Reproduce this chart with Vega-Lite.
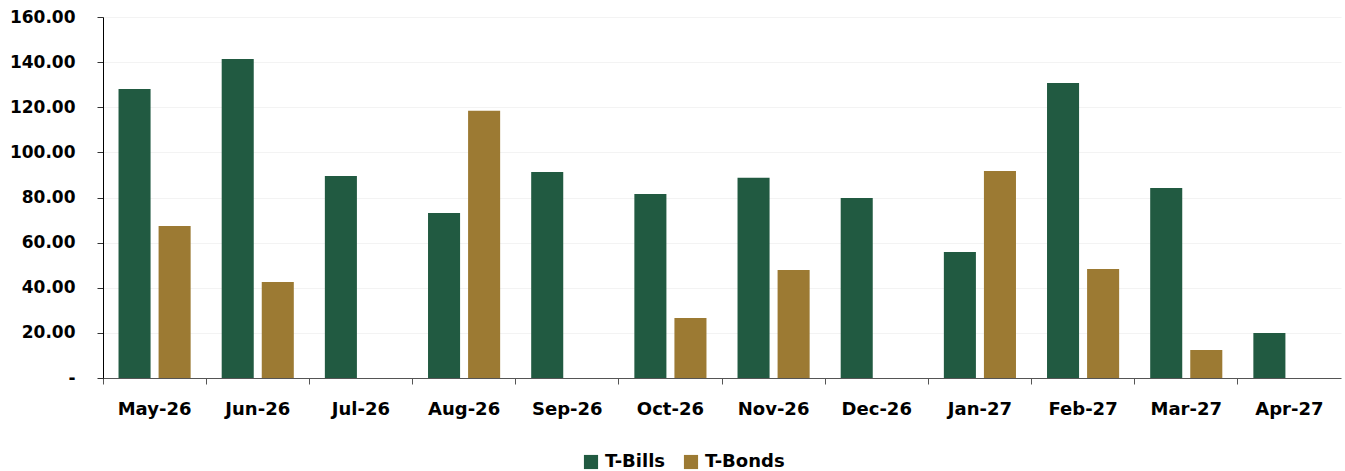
{
  "$schema": "https://vega.github.io/schema/vega-lite/v6.json",
  "width": 1238,
  "height": 361,
  "autosize": {"type": "none"},
  "padding": {"left": 103, "top": 17, "right": 4, "bottom": 93},
  "background": "white",
  "config": {"view": {"stroke": null}, "font": "DejaVu Sans"},
  "data": {"values": [
    {"month": "May-26", "type": "T-Bills", "value": 128.1},
    {"month": "May-26", "type": "T-Bonds", "value": 67.4},
    {"month": "Jun-26", "type": "T-Bills", "value": 141.4},
    {"month": "Jun-26", "type": "T-Bonds", "value": 42.6},
    {"month": "Jul-26", "type": "T-Bills", "value": 89.5},
    {"month": "Aug-26", "type": "T-Bills", "value": 73.1},
    {"month": "Aug-26", "type": "T-Bonds", "value": 118.4},
    {"month": "Sep-26", "type": "T-Bills", "value": 91.3},
    {"month": "Oct-26", "type": "T-Bills", "value": 81.6},
    {"month": "Oct-26", "type": "T-Bonds", "value": 26.6},
    {"month": "Nov-26", "type": "T-Bills", "value": 88.7},
    {"month": "Nov-26", "type": "T-Bonds", "value": 47.9},
    {"month": "Dec-26", "type": "T-Bills", "value": 79.8},
    {"month": "Jan-27", "type": "T-Bills", "value": 55.9},
    {"month": "Jan-27", "type": "T-Bonds", "value": 91.8},
    {"month": "Feb-27", "type": "T-Bills", "value": 130.8},
    {"month": "Feb-27", "type": "T-Bonds", "value": 48.3},
    {"month": "Mar-27", "type": "T-Bills", "value": 84.2},
    {"month": "Mar-27", "type": "T-Bonds", "value": 12.4},
    {"month": "Apr-27", "type": "T-Bills", "value": 19.9}
  ]},
  "mark": {"type": "bar"},
  "encoding": {
    "x": {
      "field": "month", "type": "nominal", "sort": null, "title": null,
      "scale": {"paddingInner": 0, "paddingOuter": 0,
        "domain": ["May-26","Jun-26","Jul-26","Aug-26","Sep-26","Oct-26","Nov-26","Dec-26","Jan-27","Feb-27","Mar-27","Apr-27"]},
      "axis": {"labelAngle": 0, "labelFontSize": 18, "labelFontWeight": "bold", "labelColor": "#000",
        "bandPosition": 0, "tickSize": 6, "tickColor": "#555", "domainColor": "#555", "labelPadding": 16, "grid": false}
    },
    "xOffset": {"field": "type", "type": "nominal", "scale": {"domain": ["T-Bills", "T-Bonds"], "paddingInner": 0.2, "paddingOuter": 0.3875}},
    "y": {
      "field": "value", "type": "quantitative", "title": null,
      "scale": {"domain": [0, 160], "nice": false},
      "axis": {"values": [0,20,40,60,80,100,120,140,160], "labelExpr": "datum.value == 0 ? '-' : format(datum.value, '.2f')",
        "labelFontSize": 17, "labelFontWeight": "bold", "labelColor": "#000", "labelPadding": 22,
        "tickSize": 6, "tickColor": "#333", "domainColor": "#000", "gridColor": "#f3f3f3", "grid": true}
    },
    "color": {
      "field": "type", "type": "nominal", "title": null,
      "scale": {"domain": ["T-Bills", "T-Bonds"], "range": ["#215a41", "#9c7a33"]},
      "legend": {"orient": "none", "legendX": 479, "legendY": 436, "direction": "horizontal",
        "symbolType": "square", "symbolSize": 200, "symbolStrokeWidth": 0, "symbolOpacity": 1,
        "labelFontSize": 18, "labelFontWeight": "bold", "labelColor": "#000", "columnPadding": 16, "labelOffset": 5}
    }
  }
}
